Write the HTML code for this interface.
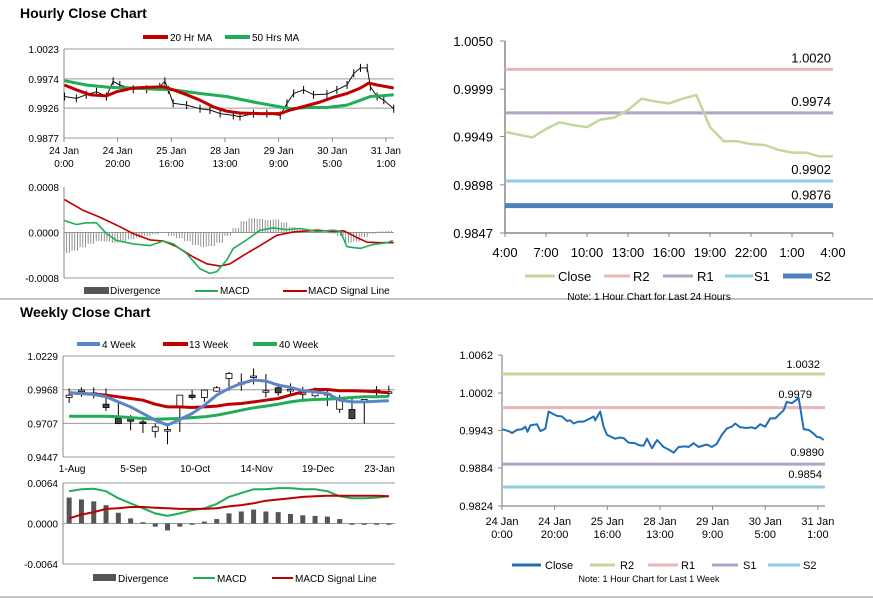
<!DOCTYPE html>
<html><head><meta charset="utf-8">
<style>
html,body{margin:0;padding:0;background:#fff;}
svg{display:block;font-family:"Liberation Sans",Arial,sans-serif;}
</style></head>
<body>
<svg id="s" width="873" height="601" viewBox="0 0 873 601">
<text x="20" y="18" font-size="14" font-weight="bold">Hourly Close Chart</text>
<text x="20" y="317" font-size="14" font-weight="bold">Weekly Close Chart</text>
<line x1="0" y1="299" x2="873" y2="299" stroke="#888" stroke-width="1"/>
<line x1="0" y1="597" x2="873" y2="597" stroke="#888" stroke-width="1"/>
</svg>
<script>
// ---------- DATA ----------
// Hourly close (top-left), hours from 24 Jan 0:00
const hcHours=[0.2,4.6,8.3,12.1,15.8,18.3,20.8,25.8,30.8,35.7,37.6,38.9,40.7,45.7,50.7,54.4,58.2,63.1,65.6,70.6,75.6,80.6,83.1,85.6,89.3,93,98,101.7,105.5,108,110.5,113,114.2,116.7,119.2,122.9];
const hcClose=[0.9945,0.9942,0.9948,0.9953,0.9945,0.9970,0.9964,0.9957,0.9957,0.9961,0.9970,0.9956,0.9934,0.9931,0.9925,0.9923,0.9917,0.9914,0.9912,0.9917,0.9917,0.9914,0.9934,0.9950,0.9956,0.9948,0.9949,0.9956,0.9964,0.9983,0.9992,0.9992,0.9961,0.9945,0.9939,0.9925];
const ma20Hours=[0.2,4.6,9.6,15.8,19.6,25.8,30.8,37,40.7,45.7,50.7,55.7,60.6,65.6,73.1,80.6,84.3,88,95.5,100.5,105.5,110.5,113.6,116.7,122.9];
const ma20=[0.9964,0.9956,0.9948,0.9946,0.9953,0.9959,0.9960,0.9961,0.9956,0.9948,0.9939,0.9928,0.9921,0.9918,0.9917,0.9917,0.9923,0.9927,0.9936,0.9944,0.9950,0.9959,0.9967,0.9964,0.9959];
const ma50Hours=[0.2,8.3,17,25.8,34.5,40.7,50.7,60.6,70.6,80.6,84.3,90.5,98,105.5,110.5,114.2,117.9,122.9];
const ma50=[0.9971,0.9964,0.9960,0.9959,0.9957,0.9956,0.9950,0.9945,0.9936,0.9928,0.9925,0.9927,0.9927,0.9931,0.9939,0.9945,0.9946,0.9948];
const hTickVals=[1.0023,0.9974,0.9926,0.9877];
const hTickLbl=["1.0023","0.9974","0.9926","0.9877"];
const hXHours=[0,20,40,60,80,100,120];
const hXL1=["24 Jan","24 Jan","25 Jan","28 Jan","29 Jan","30 Jan","31 Jan"];
const hXL2=["0:00","20:00","16:00","13:00","9:00","5:00","1:00"];
// Hourly MACD
const sigHours=[0.2,7.1,13.3,19.6,25.8,32,37,42,48.2,53.2,58.2,61.9,66.9,73.1,79.3,85.6,94.3,100.5,104.3,109.2,113,118,122.9];
const sigVals=[0.00058,0.00039,0.00027,0.00013,-0.00002,-0.00013,-0.00015,-0.00025,-0.00043,-0.00055,-0.00059,-0.00055,-0.0004,-0.00023,-0.00005,0.00001,0.00004,0.00002,0.00003,-0.00009,-0.00017,-0.00018,-0.00018];
const macdHours=[0.2,4.6,8.3,12.1,15.8,19.6,25.8,32,37,40.7,45.7,50.7,54.4,56.9,60.6,63.1,68.1,73.1,78,83.1,88,94.3,100.5,103,105.5,110.5,115.4,120.4,122.6];
const macdVals=[0.00021,0.00014,0.00017,0.00017,-0.00002,-0.00014,-0.0002,-0.00023,-0.00015,-0.0002,-0.00037,-0.00064,-0.00072,-0.00069,-0.00049,-0.00028,-0.00013,0.00004,0.00008,0.00005,0.00007,0.00002,0.00004,0.00002,-0.00025,-0.00028,-0.00021,-0.00018,-0.00014];
const divHours=[0,3,6,9,12,15,18,21,24,27,30,33,36,39,42,45,48,51,54,57,60,63,66,69,72,75,78,81,84,87,90,93,96,99,102,105,108,111,114,117,120];
const divVals=[-0.00036,-0.00032,-0.00026,-0.0002,-0.00015,-0.00016,-0.00018,-0.00016,-0.00012,-0.00009,-0.00006,-0.00003,0.00001,-0.00006,-0.0001,-0.00015,-0.00022,-0.00025,-0.00024,-0.00018,-0.00006,0.00008,0.0002,0.00025,0.00024,0.00022,0.00023,0.00018,0.0001,0.00005,0.00003,0.00002,0.0,-0.00002,-0.00006,-0.00018,-0.00016,-0.00008,-0.00002,0.00002,0.00003];
// 24 hour chart (top-right)
const dHours=["4:00","7:00","10:00","13:00","16:00","19:00","22:00","1:00","4:00"];
const dClose=[0.9954,0.9951,0.9948,0.9957,0.9964,0.9961,0.9959,0.9967,0.9969,0.9977,0.9989,0.9986,0.9984,0.9989,0.9993,0.9959,0.9944,0.9944,0.9941,0.9940,0.9935,0.9932,0.9932,0.9928,0.9928];
const dLevels=[1.0020,0.9974,0.9902,0.9876];
const dLevelNames=["R2","R1","S1","S2"];
const dTicks=[1.0050,0.9999,0.9949,0.9898,0.9847];
// Weekly candles
const wkLabels=["1-Aug","5-Sep","10-Oct","14-Nov","19-Dec","23-Jan"];
const wkLabelIdx=[0,5,10,15,20,25];
const wOpen=[0.9908,0.9957,0.9944,0.9856,0.9745,0.9745,0.9719,0.9646,0.9659,0.9828,0.9926,0.9908,0.9957,1.0055,1.0022,1.0074,0.9960,0.9983,0.9970,0.9944,0.9921,0.9939,0.9817,0.9815,0.9892,0.9965,0.9952];
const wClose=[0.9926,0.9965,0.9944,0.9830,0.9706,0.9724,0.9706,0.9680,0.9659,0.9926,0.9908,0.9965,0.9983,1.0094,1.0022,1.0074,0.9960,0.9944,0.9970,0.9944,0.9944,0.9939,0.9905,0.9745,0.9892,0.9965,0.9952];
const wHigh=[0.9978,0.9986,0.9986,0.9978,0.9866,0.9771,0.9758,0.9706,0.9706,0.9926,0.9965,0.9970,0.9996,1.0107,1.0094,1.0133,1.0089,1.0017,1.0017,0.9991,0.9986,0.9965,0.9926,0.9913,0.9892,0.9996,0.9999];
const wLow=[0.9866,0.9913,0.9900,0.9804,0.9701,0.9654,0.9633,0.9597,0.9545,0.9641,0.9892,0.9874,0.9952,0.9960,0.9960,1.0009,0.9908,0.9921,0.9926,0.9874,0.9908,0.9841,0.9789,0.9737,0.9706,0.9913,0.9913];
const ma4w=[0.9944,0.9939,0.9931,0.9913,0.9874,0.9835,0.9784,0.9732,0.9693,0.9737,0.9784,0.9848,0.9926,0.9978,1.0017,1.0043,1.0035,1.0004,0.9986,0.9960,0.9952,0.9939,0.9887,0.9874,0.9874,0.9879,0.9882];
const ma13w=[0.9944,0.9939,0.9934,0.9926,0.9913,0.9900,0.9887,0.9856,0.9835,0.9835,0.9830,0.9835,0.9841,0.9856,0.9861,0.9874,0.9887,0.9900,0.9926,0.9952,0.9970,0.9970,0.9960,0.9960,0.9957,0.9952,0.9944];
const ma40w=[0.9763,0.9763,0.9763,0.9763,0.9758,0.9752,0.9745,0.9740,0.9742,0.9745,0.9752,0.9758,0.9771,0.9789,0.9809,0.9828,0.9841,0.9856,0.9874,0.9887,0.9892,0.9895,0.9900,0.9908,0.9913,0.9913,0.9918];
const wTicks=[1.0229,0.9968,0.9707,0.9447];
const wDiv=[0.0041,0.0038,0.0035,0.0029,0.0017,0.0008,0.0002,-0.0005,-0.0011,-0.0005,-0.0002,0.0003,0.0007,0.0016,0.0019,0.0022,0.0019,0.0018,0.0015,0.0013,0.0012,0.0011,0.0007,-0.0002,-0.0002,-0.0002,-0.0002];
const wMacd=[0.0051,0.0054,0.0055,0.0051,0.0040,0.0032,0.0024,0.0016,0.0012,0.0016,0.0021,0.0024,0.0031,0.0042,0.0048,0.0054,0.0054,0.0056,0.0056,0.0054,0.0054,0.0051,0.0043,0.0040,0.0040,0.0041,0.0043];
const wSig=[0.0008,0.0014,0.0018,0.0023,0.0024,0.0026,0.0026,0.0025,0.0024,0.0023,0.0023,0.0023,0.0024,0.0027,0.0029,0.0032,0.0036,0.0038,0.0040,0.0042,0.0043,0.0044,0.0044,0.0044,0.0044,0.0044,0.0043];
// Week hourly chart (bottom-right)
const bHours=[0,2.5,3.8,5.7,7.6,8.9,9.7,10.8,13.3,14.6,16.5,17.7,19,20.9,22.8,24.7,25.9,27.2,29.1,31,33.5,34.8,35.4,37.3,38.6,39.9,43,44.9,46.2,48.1,50.6,51.9,53.8,55.1,57,58.9,61.4,63.3,65.2,67.1,69.6,70.9,72.8,74.7,77.8,79.7,81.6,83.5,85.4,87.3,88.6,90.5,93,94.9,96.2,98.1,100,101.9,103.8,105.7,107,108.2,110.1,111.4,112.7,114.6,116.5,118.4,119.6,120.9,122.2];
const bClose=[0.9945,0.9942,0.9939,0.9944,0.9945,0.9949,0.9941,0.9951,0.9953,0.9942,0.9946,0.9973,0.9970,0.9966,0.9965,0.9958,0.9959,0.9954,0.9957,0.9957,0.9962,0.9965,0.9959,0.9973,0.9949,0.9936,0.9930,0.9932,0.9931,0.9924,0.9923,0.9920,0.9919,0.9930,0.9915,0.9928,0.9917,0.9913,0.9908,0.9917,0.9918,0.9917,0.9923,0.9917,0.9921,0.9917,0.9922,0.9936,0.9946,0.9949,0.9954,0.9948,0.9947,0.9948,0.9946,0.9953,0.9949,0.9962,0.9962,0.9970,0.9975,0.9988,0.9986,0.9990,0.9994,0.9945,0.9944,0.9938,0.9933,0.9932,0.9928];
const bLevels=[1.0032,0.9979,0.9890,0.9854];
const bTicks=[1.0062,1.0002,0.9943,0.9884,0.9824];

// ---------- DRAWING ----------
const S=document.getElementById('s');
const NS='http://www.w3.org/2000/svg';
function mk(tag,attrs,parent){const e=document.createElementNS(NS,tag);for(const k in attrs)e.setAttribute(k,attrs[k]);(parent||S).appendChild(e);return e;}
function lin(d0,d1,r0,r1){return v=>r0+(v-d0)/(d1-d0)*(r1-r0);}
function txt(x,y,s,size,anchor,fill){const t=mk('text',{x:x,y:y,'font-size':size,'text-anchor':anchor||'start',fill:fill||'#000'});t.textContent=s;return t;}
function path(xs,ys,fx,fy,stroke,w){let d='';for(let i=0;i<xs.length;i++)d+=(i?'L':'M')+fx(xs[i]).toFixed(1)+','+fy(ys[i]).toFixed(1);return mk('path',{d:d,fill:'none',stroke:stroke,'stroke-width':w,'stroke-linejoin':'round'});}

// ===== Hourly close chart (top-left) =====
const hx=lin(0,123,64,394), hy=lin(1.0023,0.9877,49,138);
hTickVals.forEach((v,i)=>{
  const g=mk('line',{x1:64,x2:394,y1:hy(v),y2:hy(v),stroke:'#999','stroke-width':1});
  
  
  const t=txt(59,hy(v)+4,hTickLbl[i],10,'end');
  
  
});
mk('line',{x1:64,x2:64,y1:49,y2:138,stroke:'#888'});
hXHours.forEach((h,i)=>{
  mk('line',{x1:hx(h),x2:hx(h),y1:138,y2:142,stroke:'#888'});
  const t1=txt(hx(h),154,hXL1[i],10,'middle');
  
  
  txt(hx(h),167,hXL2[i],10,'middle');
});
// candle-like ticks
hcHours.forEach((h,i)=>{
  const c=mk('line',{x1:hx(h),x2:hx(h),y1:hy(hcClose[i])-4,y2:hy(hcClose[i])+4,stroke:'#000','stroke-width':1});
  
  
});
const hcLine=path(hcHours,hcClose,hx,hy,'#111',1);


const m50=path(ma50Hours,ma50,hx,hy,'#1fae55',3);


const m20=path(ma20Hours,ma20,hx,hy,'#c00000',3);


// legend
mk('line',{x1:143,x2:168,y1:37,y2:37,stroke:'#c00000','stroke-width':4});
txt(170,41,'20 Hr MA',10);
mk('line',{x1:225,x2:250,y1:37,y2:37,stroke:'#1fae55','stroke-width':4});
txt(252,41,'50 Hrs MA',10);

// ===== Hourly MACD =====
const my=lin(0.0008,-0.0008,187,278);
[0.0008,0,-0.0008].forEach((v,i)=>{
  txt(59,my(v)+4,["0.0008","0.0000","-0.0008"][i],10,'end');
});
mk('line',{x1:64,x2:394,y1:my(0),y2:my(0),stroke:'#999'});
mk('line',{x1:64,x2:394,y1:278,y2:278,stroke:'#999'});
mk('line',{x1:64,x2:64,y1:187,y2:278,stroke:'#888'});
divHours.forEach((h,i)=>{
  for(let k=0;k<3;k++){
    const b=mk('line',{x1:hx(h+k),x2:hx(h+k),y1:my(0),y2:my(divVals[i]),stroke:'#777','stroke-width':0.8});
    
    
  }
});
const sl=path(sigHours,sigVals,hx,my,'#c00000',1.6);


const ml=path(macdHours,macdVals,hx,my,'#1fae55',1.6);


mk('rect',{x:84,y:287,width:25,height:7,fill:'#555'});
txt(110,294,'Divergence',10);
mk('line',{x1:195,x2:218,y1:291,y2:291,stroke:'#1fae55','stroke-width':2});
txt(220,294,'MACD',10);
mk('line',{x1:283,x2:307,y1:291,y2:291,stroke:'#c00000','stroke-width':2});
txt(308,294,'MACD Signal Line',10);

// ===== 24h chart (top-right) =====
const dx=lin(0,24,505,833), dy=lin(1.0050,0.9847,41,233);
mk('line',{x1:505,x2:505,y1:41,y2:233,stroke:'#888','stroke-width':1.5});
mk('line',{x1:505,x2:833,y1:233,y2:233,stroke:'#888','stroke-width':1.5});
dTicks.forEach(v=>{
  mk('line',{x1:500,x2:505,y1:dy(v),y2:dy(v),stroke:'#888'});
  const t=txt(493,dy(v)+5,v.toFixed(4),13,'end');
  
  
});
dHours.forEach((l,i)=>{
  mk('line',{x1:dx(i*3),x2:dx(i*3),y1:233,y2:237,stroke:'#888'});
  const t=txt(dx(i*3),257,l,13,'middle');
  
  
});
const dCol=['#e6b8b7','#b3a2c7','#93cddd','#4f81bd'];
const dW=[3,3,3,5];
dLevels.forEach((v,i)=>{
  const l=mk('line',{x1:505,x2:833,y1:dy(v),y2:dy(v),stroke:dCol[i],'stroke-width':dW[i]});
  
  
  const t=txt(831,dy(v)-(i===3?6:7),v.toFixed(4),13,'end');
  
  
});
const dl=path(dClose.map((_,i)=>i),dClose,dx,dy,'#c3d69b',2.5);


const dLeg=[[525,555,558,'Close','#c3d69b',3],[604,630,633,'R2','#e6b8b7',3],[663,693,697,'R1','#b3a2c7',3],[725,753,754,'S1','#93cddd',3],[783,812,815,'S2','#4f81bd',5]];
dLeg.forEach(a=>{mk('line',{x1:a[0],x2:a[1],y1:276,y2:276,stroke:a[4],'stroke-width':a[5]});txt(a[2],281,a[3],13);});
txt(649,300,'Note: 1 Hour Chart for Last 24 Hours',10,'middle');

// ===== Weekly chart =====
const wx=w=>63+(w+0.5)*332/27, wy=lin(1.0229,0.9447,356,457);
wTicks.forEach(v=>{
  mk('line',{x1:63,x2:395,y1:wy(v),y2:wy(v),stroke:'#999'});
  const t=txt(58,wy(v)+4,v.toFixed(4),10,'end');
  
  
});
mk('line',{x1:63,x2:63,y1:356,y2:457,stroke:'#888'});
wkLabelIdx.forEach((w,i)=>{
  const t=txt(wx(w)+3,472,wkLabels[i],10,'middle');
  
  
});
wOpen.forEach((o,i)=>{
  const c=wClose[i], x=wx(i);
  mk('line',{x1:x,x2:x,y1:wy(wHigh[i]),y2:wy(wLow[i]),stroke:'#000','stroke-width':1});
  const top=wy(Math.max(o,c)), h=Math.max(1.5,Math.abs(wy(o)-wy(c)));
  const r=mk('rect',{x:x-3,y:top,width:6,height:h,fill:c>=o?'#fff':'#444',stroke:'#000','stroke-width':0.8});
  
  
});
const wl3=path(wOpen.map((_,i)=>i),ma40w,wx,wy,'#1fae55',3);


const wl2=path(wOpen.map((_,i)=>i),ma13w,wx,wy,'#c00000',3);


const wl1=path(wOpen.map((_,i)=>i),ma4w,wx,wy,'#5b86c5',3);


mk('line',{x1:77,x2:100,y1:344,y2:344,stroke:'#5b86c5','stroke-width':4});
txt(102,348,'4 Week',10);
mk('line',{x1:163,x2:188,y1:344,y2:344,stroke:'#c00000','stroke-width':4});
txt(189,348,'13 Week',10);
mk('line',{x1:253,x2:277,y1:344,y2:344,stroke:'#1fae55','stroke-width':4});
txt(279,348,'40 Week',10);

// ===== Weekly MACD =====
const wmy=lin(0.0064,-0.0064,483,564);
[0.0064,0,-0.0064].forEach((v,i)=>{
  mk('line',{x1:63,x2:395,y1:wmy(v),y2:wmy(v),stroke:'#999'});
  txt(58,wmy(v)+4,["0.0064","0.0000","-0.0064"][i],10,'end');
});
mk('line',{x1:63,x2:63,y1:483,y2:564,stroke:'#888'});
wDiv.forEach((v,i)=>{
  const b=mk('rect',{x:wx(i)-2.5,y:Math.min(wmy(0),wmy(v)),width:5,height:Math.abs(wmy(v)-wmy(0)),fill:'#555'});
  
  
});
const wm=path(wOpen.map((_,i)=>i),wMacd,wx,wmy,'#1fae55',2);


const ws=path(wOpen.map((_,i)=>i),wSig,wx,wmy,'#c00000',2);


mk('rect',{x:93,y:574,width:23,height:7,fill:'#555'});
txt(118,582,'Divergence',10);
mk('line',{x1:193,x2:215,y1:578,y2:578,stroke:'#1fae55','stroke-width':2});
txt(217,582,'MACD',10);
mk('line',{x1:272,x2:293,y1:578,y2:578,stroke:'#c00000','stroke-width':2});
txt(295,582,'MACD Signal Line',10);

// ===== Week hourly chart (bottom-right) =====
const bx=lin(0,122.7,502,825), by=lin(1.0062,0.9824,355,506);
mk('line',{x1:502,x2:502,y1:355,y2:506,stroke:'#888','stroke-width':1.2});
mk('line',{x1:502,x2:825,y1:506,y2:506,stroke:'#888','stroke-width':1.2});
bTicks.forEach(v=>{
  mk('line',{x1:498,x2:502,y1:by(v),y2:by(v),stroke:'#888'});
  const t=txt(493,by(v)+4,v.toFixed(4),11,'end');
  
  
});
hXHours.forEach((h,i)=>{
  mk('line',{x1:bx(h),x2:bx(h),y1:506,y2:510,stroke:'#888'});
  const t=txt(bx(h),525,hXL1[i],11,'middle');
  
  
  txt(bx(h),538,hXL2[i],11,'middle');
});
const bCol=['#c3d69b','#e6b8b7','#b3a2c7','#93cddd'];
const bNames=['r2','r1','s1','s2'];
bLevels.forEach((v,i)=>{
  const l=mk('line',{x1:502,x2:825,y1:by(v),y2:by(v),stroke:bCol[i],'stroke-width':3});
  
  
});
txt(820,368,'1.0032',11,'end');
txt(812,398,'0.9979',11,'end');
txt(824,456,'0.9890',11,'end');
txt(822,478,'0.9854',11,'end');
const bl=path(bHours,bClose,bx,by,'#1f6fb5',2);


const bLeg=[[512,541,545,'Close','#1f6fb5'],[590,615,620,'R2','#c3d69b'],[648,678,681,'R1','#e6b8b7'],[712,738,743,'S1','#b3a2c7'],[768,800,803,'S2','#93cddd']];
bLeg.forEach(a=>{mk('line',{x1:a[0],x2:a[1],y1:565,y2:565,stroke:a[4],'stroke-width':3});txt(a[2],569,a[3],11);});
txt(649,582,'Note: 1 Hour Chart for Last 1 Week',9,'middle');
</script>
</body></html>
